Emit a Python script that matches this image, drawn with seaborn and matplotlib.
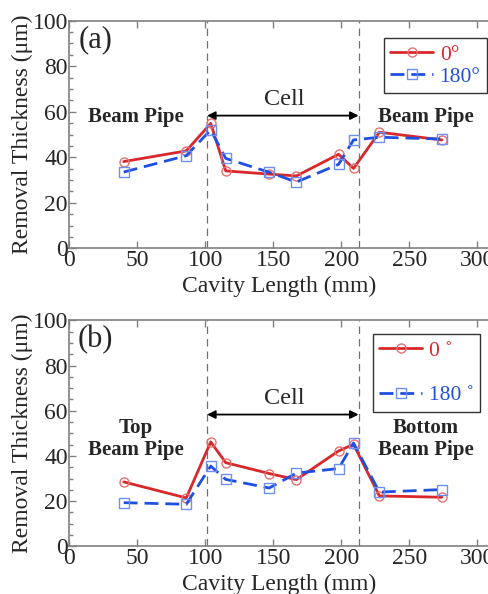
import numpy as np
import pandas as pd
import matplotlib
matplotlib.use('Agg')
import matplotlib.pyplot as plt
import seaborn as sns

# cavity positions (mm)
positions = [40, 86, 104, 115, 147, 167, 198, 209, 228, 274]

# panel (a)
a_0deg = [38.1, 42.8, 54.9, 34.0, 32.6, 31.8, 41.3, 35.1, 51.0, 47.6]
a_180deg = [33.5, 40.7, 52.0, 39.5, 33.4, 29.1, 36.9, 47.6, 48.8, 48.0]

# panel (b)
b_0deg = [28.5, 21.4, 46.2, 37.0, 32.2, 29.5, 42.2, 45.1, 22.3, 21.7]
b_180deg = [19.3, 18.6, 35.5, 29.6, 25.8, 32.4, 34.4, 45.7, 24.0, 25.1]

cell_start = 101.3
cell_end = 212.7

sns.set_style('ticks')
plt.rcParams['font.family'] = ['Liberation Serif', 'DejaVu Serif']

red = '#d8282c'
blue = '#1f4fe0'
spine_col = '#808080'

fig = plt.figure(figsize=(4.88, 5.94), dpi=100)
ax_a = fig.add_axes([69.3 / 488, 1 - 248.3 / 594, 1 - 69.3 / 488, (248.3 - 20.7) / 594])
ax_b = fig.add_axes([69.3 / 488, 1 - 546.3 / 594, 1 - 69.3 / 488, (546.3 - 320.3) / 594])

xmax = 300 * (488 - 69.3) / 408


def draw_panel(ax, y0, y180, tag, lab0, lab180, left_txt, right_txt, legend_spacing, legend_anchor):
    df = pd.DataFrame({'pos': positions, 'deg0': y0, 'deg180': y180})
    sns.lineplot(data=df, x='pos', y='deg0', ax=ax, color=red, lw=2.0,
                 marker='o', ms=6.5, mfc='none', mec='#e87070', mew=1.0, label=lab0)
    sns.lineplot(data=df, x='pos', y='deg180', ax=ax, color=blue, lw=2.0,
                 linestyle=(0, (5, 2.5)),
                 marker='s', ms=6.5, mfc='none', mec='#6f8ff0', mew=1.0, label=lab180)

    for xv in (cell_start, cell_end):
        ax.axvline(xv, color='#707070', lw=0.9, ls=(0, (6, 4)), zorder=0)
    ax.annotate('', xy=(cell_start, 58.3), xytext=(cell_end, 58.3),
                arrowprops=dict(arrowstyle='<|-|>', color='black', lw=1.3,
                                mutation_scale=12, shrinkA=0, shrinkB=0))
    ax.text((cell_start + cell_end) / 2 + 1, 65.5, 'Cell', ha='center', va='center', fontsize=17.5)
    ax.text(49, left_txt[1], left_txt[0], ha='center', va='center', fontsize=15,
            fontweight='bold', linespacing=1.15)
    ax.text(262, right_txt[1], right_txt[0], ha='center', va='center', fontsize=15,
            fontweight='bold', linespacing=1.15)
    ax.text(19.5, 91.5, tag, ha='center', va='center', fontsize=22)

    ax.set_xlim(0, xmax)
    ax.set_ylim(0, 100)
    ax.set_xticks([0, 50, 100, 150, 200, 250, 300])
    ax.set_yticks([0, 20, 40, 60, 80, 100])
    ax.set_yticks(np.arange(0, 101, 5), minor=True)
    ax.tick_params(axis='both', which='major', direction='in', length=5, width=1,
                   color=spine_col, labelsize=17, top=True)
    ax.tick_params(axis='y', which='major', pad=1)
    ax.tick_params(axis='y', which='minor', direction='in', length=3, width=1, color=spine_col)
    ax.tick_params(axis='x', which='major', pad=1.5)
    for side in ('left', 'bottom', 'top'):
        ax.spines[side].set_color(spine_col)
        ax.spines[side].set_linewidth(1.2)
    ax.spines['right'].set_visible(False)
    ax.set_xlabel('Cavity Length (mm)', fontsize=17, labelpad=3)
    ax.set_ylabel('Removal Thickness (μm)', fontsize=17, labelpad=0)

    leg = ax.legend(loc='upper right', bbox_to_anchor=legend_anchor,
                    bbox_transform=fig.transFigure, fontsize=15.5, handlelength=2.0,
                    handletextpad=0.3, labelspacing=legend_spacing, borderpad=0.3,
                    borderaxespad=0, fancybox=False, framealpha=1, edgecolor='#333333')
    leg.get_frame().set_linewidth(1.0)
    for txt, col in zip(leg.get_texts(), (red, blue)):
        txt.set_color(col)


draw_panel(ax_a, a_0deg, a_180deg, '(a)', '0°', '180°',
           ('Beam Pipe', 57.8), ('Beam Pipe', 57.8), 0.1, (487 / 488, 1 - 38 / 594))
draw_panel(ax_b, b_0deg, b_180deg, '(b)', '0 ˚', '180 ˚',
           ('Top\nBeam Pipe', 47.6), ('Bottom\nBeam Pipe', 47.6), 1.15, (480 / 488, 1 - 334 / 594))

fig.savefig('out.png', dpi=100)
